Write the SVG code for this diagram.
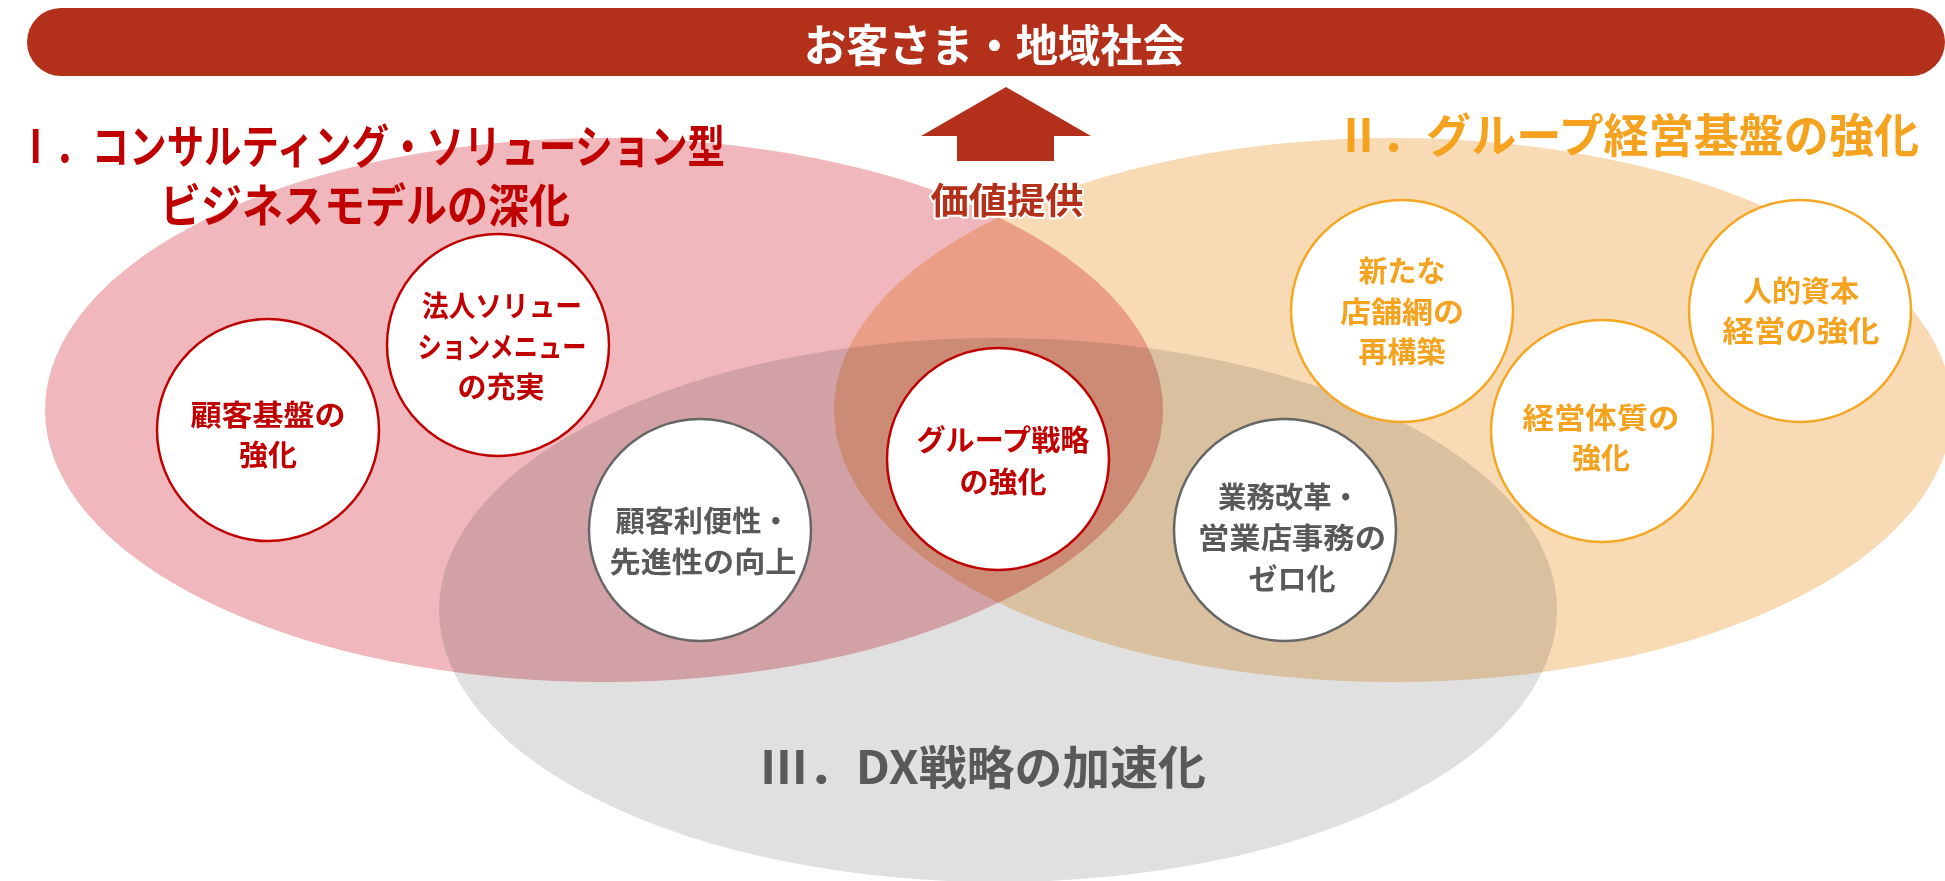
<svg xmlns="http://www.w3.org/2000/svg" width="1945" height="881" viewBox="0 0 1945 881">
<style>
text{font-family:"Noto Sans CJK JP","Noto Sans",sans-serif;font-weight:700;dominant-baseline:central;text-anchor:middle}
.blend{mix-blend-mode:multiply}
.c{fill:#FFFFFF;stroke-width:2.5}
.cr{stroke:#C00000}.cg{stroke:#666666}.co{stroke:#F5A623}
.tr{fill:#C00000;font-size:29px}.tg{fill:#595959;font-size:29px}.to{fill:#F5A21E;font-size:29px}
</style>
<rect x="0" y="0" width="1945" height="881" fill="#FFFFFF"/>
<g id="regions">
<ellipse class="blend" cx="604" cy="410" rx="559" ry="272" fill="#F0B8BC"/>
<ellipse class="blend" cx="1393" cy="410" rx="559" ry="272" fill="#F8DBB5"/>
<ellipse class="blend" cx="998" cy="610" rx="559" ry="272" fill="#E0E0E0"/>
</g>
<g id="banner">
<rect x="27" y="8" width="1918" height="68" rx="34" fill="#B3301A"/>
<text x="804" y="43" style="text-anchor:start;font-size:44px" fill="#FFFFFF" textLength="381" lengthAdjust="spacingAndGlyphs">お客さま・地域社会</text>
</g>
<g id="connectors">
<polygon points="1006,87 1091,136 1054,136 1054,161 957,161 957,136 921,136" fill="#B3301A"/>
<text x="1007" y="198" style="font-size:36px;paint-order:stroke" fill="#B3301A" stroke="#FFFFFF" stroke-width="4" stroke-linejoin="round" textLength="153" lengthAdjust="spacingAndGlyphs">価値提供</text>
</g>
<g id="title1">
<text x="17" y="143" style="text-anchor:start;font-size:46px" fill="#C00000" textLength="708" lengthAdjust="spacingAndGlyphs">Ⅰ．コンサルティング・ソリューション型</text>
<text x="160" y="202" style="text-anchor:start;font-size:46px" fill="#C00000" textLength="410" lengthAdjust="spacingAndGlyphs">ビジネスモデルの深化</text>
</g>
<g id="title2">
<text x="1336" y="132" style="text-anchor:start;font-size:46px" fill="#F5A21E" textLength="583" lengthAdjust="spacingAndGlyphs">Ⅱ．グループ経営基盤の強化</text>
</g>
<g id="title3">
<text x="760" y="764" style="text-anchor:start;font-size:46px" fill="#595959" textLength="446" lengthAdjust="spacingAndGlyphs">Ⅲ．DX戦略の加速化</text>
</g>
<g id="node-kokyaku-kiban">
<circle class="c cr" cx="268" cy="430" r="111"/>
<text class="tr" x="268" y="413" textLength="155" lengthAdjust="spacingAndGlyphs">顧客基盤の</text>
<text class="tr" x="268" y="453">強化</text>
</g>
<g id="node-hojin-solution">
<circle class="c cr" cx="498" cy="345" r="111"/>
<text class="tr" x="502" y="304" textLength="160" lengthAdjust="spacingAndGlyphs">法人ソリュー</text>
<text class="tr" x="502" y="345" textLength="169" lengthAdjust="spacingAndGlyphs">ションメニュー</text>
<text class="tr" x="501" y="385">の充実</text>
</g>
<g id="node-kokyaku-ribensei">
<circle class="c cg" cx="700" cy="530" r="111"/>
<text class="tg" x="703" y="519" textLength="175" lengthAdjust="spacingAndGlyphs">顧客利便性・</text>
<text class="tg" x="703" y="560" textLength="187" lengthAdjust="spacingAndGlyphs">先進性の向上</text>
</g>
<g id="node-group-senryaku">
<circle class="c cr" cx="998" cy="459" r="111"/>
<text class="tr" x="1003" y="438" textLength="173" lengthAdjust="spacingAndGlyphs">グループ戦略</text>
<text class="tr" x="1003" y="480">の強化</text>
</g>
<g id="node-gyomu-kaikaku">
<circle class="c cg" cx="1285" cy="530" r="111"/>
<text class="tg" x="1289" y="495" textLength="142" lengthAdjust="spacingAndGlyphs">業務改革・</text>
<text class="tg" x="1292" y="536" textLength="188" lengthAdjust="spacingAndGlyphs">営業店事務の</text>
<text class="tg" x="1292" y="577">ゼロ化</text>
</g>
<g id="node-tenpomou">
<circle class="c co" cx="1402" cy="311" r="111"/>
<text class="to" x="1402" y="269">新たな</text>
<text class="to" x="1402" y="310" textLength="124" lengthAdjust="spacingAndGlyphs">店舗網の</text>
<text class="to" x="1402" y="350">再構築</text>
</g>
<g id="node-keiei-taishitsu">
<circle class="c co" cx="1602" cy="431" r="111"/>
<text class="to" x="1601" y="416" textLength="157" lengthAdjust="spacingAndGlyphs">経営体質の</text>
<text class="to" x="1601" y="456">強化</text>
</g>
<g id="node-jinteki-shihon">
<circle class="c co" cx="1800" cy="311" r="111"/>
<text class="to" x="1801" y="289">人的資本</text>
<text class="to" x="1801" y="329" textLength="157" lengthAdjust="spacingAndGlyphs">経営の強化</text>
</g>
</svg>
